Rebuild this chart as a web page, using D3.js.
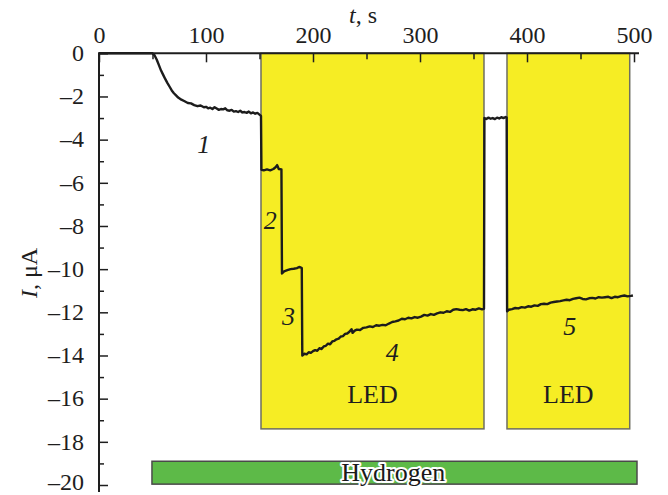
<!DOCTYPE html>
<html>
<head>
<meta charset="utf-8">
<script src="https://cdn.jsdelivr.net/npm/d3@7"></script>
<style>
  html, body { margin: 0; padding: 0; background: #fff; }
  svg { display: block; }
  text { font-family: "Liberation Serif", "Times New Roman", serif; }
</style>
</head>
<body>
<svg id="chart" width="668" height="495"></svg>
<script>
// ---------------- data ----------------
const timeS = [
  0, 50, 52, 54, 56, 58, 60, 62, 64, 66, 68, 70, 72, 74, 77, 80, 83, 86, 89, 92, 95, 98,
  100, 102, 104, 106, 108, 110, 112, 114, 116, 118, 120, 122, 124, 126, 128, 130, 132, 134,
  136, 138, 140, 142, 144, 146, 148, 150, 151.4,
  151.8, 154, 157, 160, 163, 165, 166.5, 168, 170.5,
  171, 173, 176, 179, 182, 185, 187, 188.5, 189.5,
  190, 192, 194, 196, 198, 200, 202, 204, 206, 208, 210, 212, 214, 216, 218, 220, 222, 224,
  226, 228, 230, 232, 234, 236, 237, 239, 241, 244, 247, 250, 253, 256, 259, 262, 265, 268,
  271, 274, 277, 280, 283, 286, 289, 292, 295, 298, 301, 304, 307, 310, 313, 316, 319, 322,
  325, 328, 331, 334, 337, 340, 343, 346, 349, 352, 355, 358, 359.8,
  360.2, 362, 364, 366, 368, 370, 372, 374, 376, 378, 380, 381,
  381.4, 383, 386, 389, 392, 395, 398, 401, 404, 407, 410, 413, 416, 419, 422, 425, 428, 431,
  434, 437, 440, 443, 446, 449, 452, 455, 458, 461, 464, 467, 470, 473, 476, 479, 482, 485,
  488, 491, 494, 497, 499
];
const currentUA = [
  0, 0, -0.1, -0.3, -0.55, -0.8, -1.0, -1.2, -1.38, -1.55, -1.72, -1.85, -1.95, -2.05, -2.15, -2.22, -2.3, -2.32, -2.4, -2.45, -2.42, -2.5,
  -2.48, -2.55, -2.52, -2.58, -2.5, -2.56, -2.62, -2.58, -2.6, -2.55, -2.64, -2.66, -2.62, -2.7, -2.68, -2.72, -2.66, -2.74,
  -2.72, -2.76, -2.7, -2.78, -2.74, -2.8, -2.76, -2.84, -2.9,
  -5.4, -5.42, -5.38, -5.42, -5.36, -5.28, -5.18, -5.36, -5.38,
  -10.2, -10.1, -10.05, -10.0, -9.98, -9.95, -9.9, -9.92, -9.95,
  -14.0, -13.92, -13.95, -13.85, -13.88, -13.8, -13.75, -13.78, -13.66, -13.7, -13.58, -13.55, -13.45, -13.48, -13.35, -13.32, -13.25, -13.22,
  -13.12, -13.1, -13.0, -12.98, -12.9, -12.78, -12.95, -12.85, -12.8, -12.82, -12.72, -12.7, -12.65, -12.68, -12.6, -12.62, -12.58, -12.6,
  -12.52, -12.45, -12.42, -12.38, -12.3, -12.32, -12.25, -12.28, -12.22, -12.25, -12.2, -12.12, -12.15, -12.08, -12.12, -12.05, -12.0, -12.02,
  -11.95, -11.98, -11.88, -11.85, -11.88, -11.9, -11.85, -11.92, -11.86, -11.88, -11.82, -11.86, -11.84,
  -3.0, -3.04, -2.98, -3.03, -3.0, -3.05, -2.98, -3.02, -2.96, -3.0, -2.95, -2.98,
  -11.95, -11.88, -11.85, -11.8, -11.82, -11.76, -11.78, -11.72, -11.74, -11.68, -11.7, -11.62, -11.6, -11.62, -11.55, -11.52, -11.5, -11.48,
  -11.45, -11.42, -11.44, -11.38, -11.35, -11.32, -11.38, -11.4, -11.35, -11.33, -11.36, -11.3, -11.32, -11.3, -11.28, -11.34, -11.28, -11.3,
  -11.25, -11.22, -11.26, -11.24, -11.22
];
const xTickValues = [0, 100, 200, 300, 400, 500];
const yTickValues = [0, -2, -4, -6, -8, -10, -12, -14, -16, -18, -20];

// LED illumination intervals (t start, t end) and box bottom in µA units
const ledStart = [151.4, 381.3];
const ledEnd = [359.8, 496];
const ledBottom = -17.4;
const ledLabel = ["LED", "LED"];

// hydrogen exposure interval
const hydrogenStart = 49.5;
const hydrogenEnd = 502.8;
const hydrogenTop = -18.9;
const hydrogenBottom = -19.96;

// curve segment labels
const segLabel = ["1", "2", "3", "4", "5"];
const segLabelT = [98, 160, 177, 274, 440];
const segLabelI = [-4.2, -7.7, -12.15, -13.85, -12.65];

// ---------------- drawing ----------------
const svg = d3.select("#chart");
const x = d3.scaleLinear().domain([0, 500]).range([99, 634]);
const y = d3.scaleLinear().domain([0, -20]).range([53.3, 485]);

const FS = 24;   // tick labels
const LFS = 26;  // annotation labels

// LED boxes
const leds = ledStart.map((s, i) => ({ s, e: ledEnd[i], label: ledLabel[i] }));
svg.append("g").selectAll("rect").data(leds).join("rect")
  .attr("x", d => x(d.s)).attr("y", y(0))
  .attr("width", d => x(d.e) - x(d.s))
  .attr("height", y(ledBottom) - y(0))
  .attr("fill", "#f6ed24")
  .attr("stroke", "#6e6e60")
  .attr("stroke-width", 1.5);
svg.append("g").selectAll("text").data(leds).join("text")
  .attr("x", d => x((d.s + d.e) / 2))
  .attr("y", y(-15.8))
  .attr("dy", "0.35em")
  .attr("text-anchor", "middle")
  .attr("font-size", LFS)
  .attr("fill", "#1e1e1e")
  .text(d => d.label);

// Hydrogen bar
svg.append("rect")
  .attr("x", x(hydrogenStart)).attr("y", y(hydrogenTop))
  .attr("width", x(hydrogenEnd) - x(hydrogenStart))
  .attr("height", y(hydrogenBottom) - y(hydrogenTop))
  .attr("fill", "#5dba48")
  .attr("stroke", "#4a4a4a")
  .attr("stroke-width", 1.5);
svg.append("text")
  .attr("x", x(275)).attr("y", y((hydrogenTop + hydrogenBottom) / 2))
  .attr("dy", "0.33em")
  .attr("text-anchor", "middle")
  .attr("font-size", LFS)
  .attr("fill", "#1a1a1a")
  .attr("stroke", "#fff")
  .attr("stroke-width", 4)
  .attr("paint-order", "stroke")
  .attr("stroke-linejoin", "round")
  .text("Hydrogen");

// Curve
const pts = timeS.map((t, i) => [t, currentUA[i]]);
svg.append("path")
  .datum(pts)
  .attr("fill", "none")
  .attr("stroke", "#1c1c1c")
  .attr("stroke-width", 2.4)
  .attr("stroke-linejoin", "round")
  .attr("d", d3.line().x(d => x(d[0])).y(d => y(d[1])));

// Segment labels
svg.append("g").selectAll("text").data(segLabel).join("text")
  .attr("x", (d, i) => x(segLabelT[i]))
  .attr("y", (d, i) => y(segLabelI[i]))
  .attr("dy", "0.35em")
  .attr("text-anchor", "middle")
  .attr("font-size", LFS)
  .attr("font-style", "italic")
  .attr("fill", "#1e1e1e")
  .text(d => d);

// Top axis: minor ticks
const axisColor = "#1e1e1e";
const gTopMinor = svg.append("g").attr("transform", `translate(0,${y(0)})`)
  .call(d3.axisTop(x).tickValues(d3.range(50, 500, 100)).tickSize(-6).tickFormat(""));
// Top axis: major ticks
const gTop = svg.append("g").attr("transform", `translate(0,${y(0)})`)
  .call(d3.axisTop(x).tickValues(xTickValues).tickSize(-9).tickPadding(10).tickSizeOuter(0));
[gTopMinor, gTop].forEach(g => {
  g.select(".domain").remove();
  g.selectAll("line").attr("stroke", axisColor).attr("stroke-width", 1.5);
});
gTop.selectAll("text").attr("font-size", FS).attr("fill", "#1e1e1e").attr("font-family", "Liberation Serif");
svg.append("line")
  .attr("x1", x(0)).attr("x2", 639).attr("y1", y(0)).attr("y2", y(0))
  .attr("stroke", axisColor).attr("stroke-width", 2);

// Left axis: minor ticks
const gLeftMinor = svg.append("g").attr("transform", `translate(${x(0)},0)`)
  .call(d3.axisLeft(y).tickValues(d3.range(-1, -20, -2)).tickSize(-5).tickFormat(""));
const gLeft = svg.append("g").attr("transform", `translate(${x(0)},0)`)
  .call(d3.axisLeft(y).tickValues(yTickValues).tickSize(-9).tickPadding(15)
    .tickFormat(d => d === 0 ? "0" : "\u2013" + Math.abs(d)));
[gLeftMinor, gLeft].forEach(g => {
  g.select(".domain").remove();
  g.selectAll("line").attr("stroke", axisColor).attr("stroke-width", 1.5);
});
gLeft.selectAll("text").attr("font-size", FS).attr("fill", "#1e1e1e").attr("font-family", "Liberation Serif")
  .attr("dy", d => d === -20 ? "0.19em" : "0.3em");
svg.append("line")
  .attr("x1", x(0)).attr("x2", x(0)).attr("y1", y(0) - 1).attr("y2", 492)
  .attr("stroke", axisColor).attr("stroke-width", 2);

// Axis titles
const tt = svg.append("text")
  .attr("x", 363).attr("y", 23)
  .attr("text-anchor", "middle")
  .attr("font-size", FS)
  .attr("fill", "#1e1e1e");
tt.append("tspan").attr("font-style", "italic").text("t");
tt.append("tspan").text(", s");

const yt = svg.append("text")
  .attr("transform", "translate(37,273) rotate(-90)")
  .attr("text-anchor", "middle")
  .attr("font-size", FS)
  .attr("fill", "#1e1e1e");
yt.append("tspan").attr("font-style", "italic").text("I");
yt.append("tspan").text(", \u03bcA");
</script>
</body>
</html>
